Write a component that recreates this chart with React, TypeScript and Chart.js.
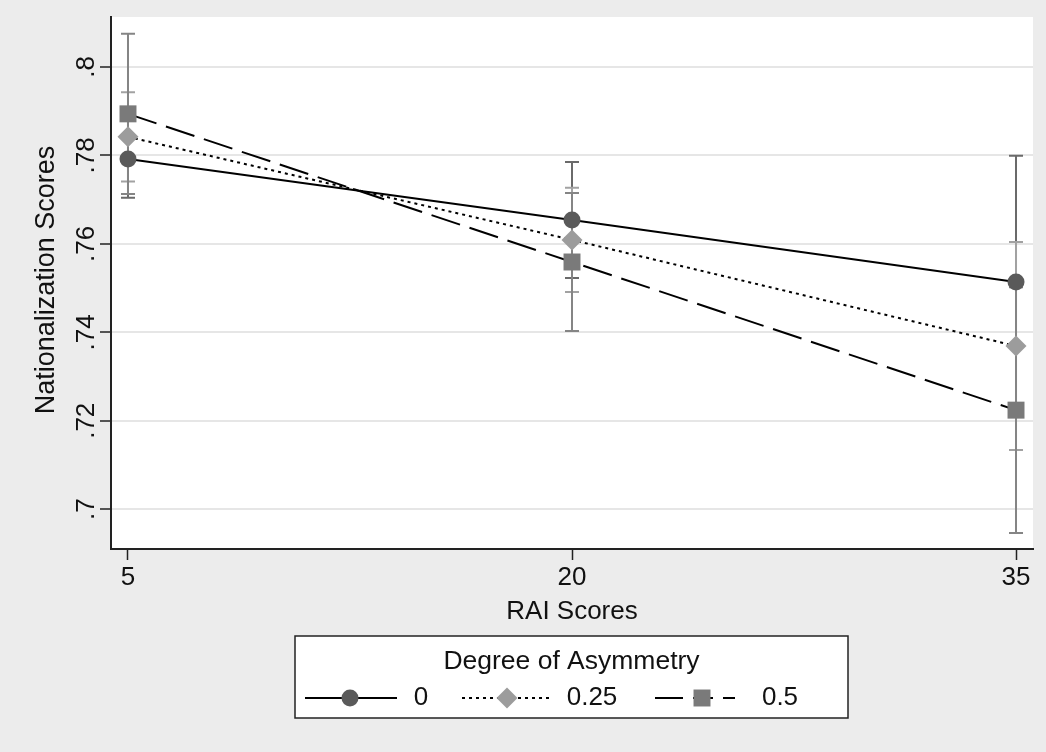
import React, { useEffect, useRef } from 'react';
import { Chart, registerables } from 'chart.js';

Chart.register(...registerables);

// ---- data ----
const xValues = [5, 20, 35];
const seriesNames = ['0', '0.25', '0.5'];

const mean0 = [0.7792, 0.7654, 0.7514];
const lo0 = [0.7704, 0.7523, 0.7229];
const hi0 = [0.788, 0.7785, 0.7799];

const mean25 = [0.7842, 0.7609, 0.7369];
const lo25 = [0.7741, 0.7491, 0.7134];
const hi25 = [0.7943, 0.7727, 0.7604];

const mean5 = [0.7894, 0.7559, 0.7224];
const lo5 = [0.7713, 0.7403, 0.6946];
const hi5 = [0.8075, 0.7715, 0.7502];

const xTickValues = [5, 20, 35];
const yTickValues = [0.7, 0.72, 0.74, 0.76, 0.78, 0.8];
const yTickLabels = ['.7', '.72', '.74', '.76', '.78', '.8'];

const xTitle = 'RAI Scores';
const yTitle = 'Nationalization Scores';
const legendTitle = 'Degree of Asymmetry';

// ---- styles ----
const FAMILY = '"Liberation Sans", Arial, Helvetica, sans-serif';
const FONT = `26px ${FAMILY}`;
const markerColors = ['#5a5a5a', '#9c9c9c', '#7a7a7a'];
const barColors = ['#6a6a6a', '#a2a2a2', '#858585'];
const pointStyles = ['circle', 'rectRot', 'rect'];
const pointRadii = [8.5, 10.5, 12];
const dashes: number[][] = [[], [3, 4], [30, 10]];

const meansList = [mean0, mean25, mean5];
const loList = [lo0, lo25, lo5];
const hiList = [hi0, hi25, hi5];

function drawMarker(ctx: CanvasRenderingContext2D, style: string, x: number, y: number, r: number, color: string) {
  ctx.save();
  ctx.fillStyle = color;
  ctx.beginPath();
  if (style === 'circle') {
    ctx.arc(x, y, r, 0, Math.PI * 2);
  } else if (style === 'rectRot') {
    ctx.moveTo(x - r, y);
    ctx.lineTo(x, y - r);
    ctx.lineTo(x + r, y);
    ctx.lineTo(x, y + r);
    ctx.closePath();
  } else {
    const s = r * Math.SQRT1_2;
    ctx.rect(x - s, y - s, 2 * s, 2 * s);
  }
  ctx.fill();
  ctx.restore();
}

const stataPlugin = {
  id: 'stataLook',
  beforeDraw(chart: any) {
    const { ctx, chartArea: a } = chart;
    ctx.save();
    ctx.fillStyle = '#ffffff';
    ctx.fillRect(a.left, a.top, a.right - a.left, a.bottom - a.top);
    ctx.restore();
  },
  beforeDatasetsDraw(chart: any) {
    const { ctx } = chart;
    const xs = chart.scales.x;
    const ys = chart.scales.y;
    ctx.save();
    ctx.lineWidth = 2;
    for (let i = 0; i < meansList.length; i++) {
      ctx.strokeStyle = barColors[i];
      for (let j = 0; j < xValues.length; j++) {
        const px = xs.getPixelForValue(xValues[j]);
        const pLo = ys.getPixelForValue(loList[i][j]);
        const pHi = ys.getPixelForValue(hiList[i][j]);
        ctx.beginPath();
        ctx.moveTo(px, pLo);
        ctx.lineTo(px, pHi);
        ctx.moveTo(px - 7, pLo);
        ctx.lineTo(px + 7, pLo);
        ctx.moveTo(px - 7, pHi);
        ctx.lineTo(px + 7, pHi);
        ctx.stroke();
      }
    }
    ctx.restore();
  },
  afterDraw(chart: any) {
    const { ctx, chartArea: a } = chart;
    const ys = chart.scales.y;
    ctx.save();
    ctx.fillStyle = '#111111';
    ctx.font = FONT;
    ctx.textAlign = 'center';
    ctx.textBaseline = 'middle';
    // rotated y tick labels
    yTickValues.forEach((v, k) => {
      const py = ys.getPixelForValue(v);
      ctx.save();
      ctx.translate(87, py);
      ctx.rotate(-Math.PI / 2);
      ctx.fillText(yTickLabels[k], 0, 0);
      ctx.restore();
    });
    // y title
    ctx.save();
    ctx.font = `27px ${FAMILY}`;
    ctx.translate(47, (a.top + a.bottom) / 2 - 3);
    ctx.rotate(-Math.PI / 2);
    ctx.fillText(yTitle, 0, 0);
    ctx.restore();
    // x title
    ctx.fillText(xTitle, (a.left + a.right) / 2, 612);

    // legend
    const bx = 295, by = 636, bw = 553, bh = 82;
    ctx.fillStyle = '#ffffff';
    ctx.fillRect(bx, by, bw, bh);
    ctx.strokeStyle = '#222222';
    ctx.lineWidth = 1.5;
    ctx.strokeRect(bx, by, bw, bh);
    ctx.fillStyle = '#111111';
    ctx.font = `26.5px ${FAMILY}`;
    ctx.fillText(legendTitle, bx + bw / 2, 662);
    ctx.font = FONT;
    const iy = 698;
    const items = [
      { x0: 305, x1: 397, mx: 350, tx: 421 },
      { x0: 462, x1: 552, mx: 507, tx: 592 },
      { x0: 655, x1: 735, mx: 702, tx: 780 },
    ];
    const legendDashes: number[][] = [[], [3, 4], [28, 10, 20, 10]];
    items.forEach((it, i) => {
      ctx.save();
      ctx.strokeStyle = '#000000';
      ctx.lineWidth = 2;
      ctx.setLineDash(legendDashes[i]);
      ctx.beginPath();
      ctx.moveTo(it.x0, iy);
      ctx.lineTo(it.x1, iy);
      ctx.stroke();
      ctx.restore();
      drawMarker(ctx, pointStyles[i], it.mx, iy, pointRadii[i], markerColors[i]);
      ctx.fillStyle = '#111111';
      ctx.fillText(seriesNames[i], it.tx, iy);
    });
    ctx.restore();
  },
};

export default function App() {
  const ref = useRef<HTMLCanvasElement | null>(null);
  useEffect(() => {
    document.body.style.margin = '0';
    const canvas = ref.current!;
    const datasets = meansList.map((m, i) => ({
      label: seriesNames[i],
      data: xValues.map((x, j) => ({ x, y: m[j] })),
      showLine: true,
      borderColor: '#000000',
      borderWidth: 2,
      borderDash: dashes[i],
      backgroundColor: markerColors[i],
      pointBackgroundColor: markerColors[i],
      pointBorderWidth: 0,
      pointBorderColor: markerColors[i],
      pointStyle: pointStyles[i],
      pointRadius: pointRadii[i],
      tension: 0,
    }));
    const chart = new Chart(canvas, {
      type: 'scatter',
      data: { datasets },
      plugins: [stataPlugin],
      options: {
        responsive: false,
        animation: false,
        devicePixelRatio: 1,
        layout: { padding: { left: 0, top: 17, right: 13, bottom: 0 } },
        plugins: { legend: { display: false }, tooltip: { enabled: false } },
        scales: {
          x: {
            type: 'linear',
            position: 'bottom',
            min: 4.426,
            max: 35.574,
            afterBuildTicks: (s: any) => {
              s.ticks = xTickValues.map((v) => ({ value: v }));
            },
            afterFit: (s: any) => {
              s.height = 203;
            },
            ticks: {
              color: '#111111',
              font: { family: FAMILY, size: 26 },
              padding: 2,
              maxRotation: 0,
              callback: (v: any) => String(v),
            },
            grid: {
              drawOnChartArea: false,
              drawTicks: true,
              tickLength: 11,
              tickColor: '#222222',
              tickWidth: 1.5,
            },
            border: { color: '#222222', width: 2 },
          },
          y: {
            type: 'linear',
            position: 'left',
            min: 0.691,
            max: 0.8113,
            afterBuildTicks: (s: any) => {
              s.ticks = yTickValues.map((v) => ({ value: v }));
            },
            afterFit: (s: any) => {
              s.width = 111;
            },
            ticks: { display: false },
            grid: {
              color: '#e6e6e6',
              lineWidth: 2,
              drawTicks: true,
              tickLength: 11,
              tickColor: '#222222',
              tickWidth: 1.5,
            },
            border: { color: '#222222', width: 2 },
          },
        },
      },
    } as any);
    return () => chart.destroy();
  }, []);
  return (
    <div style={{ position: 'absolute', left: 0, top: 0, width: 1046, height: 752, background: '#ececec' }}>
      <canvas ref={ref} width={1046} height={752} style={{ display: 'block', width: 1046, height: 752 }} />
    </div>
  );
}
